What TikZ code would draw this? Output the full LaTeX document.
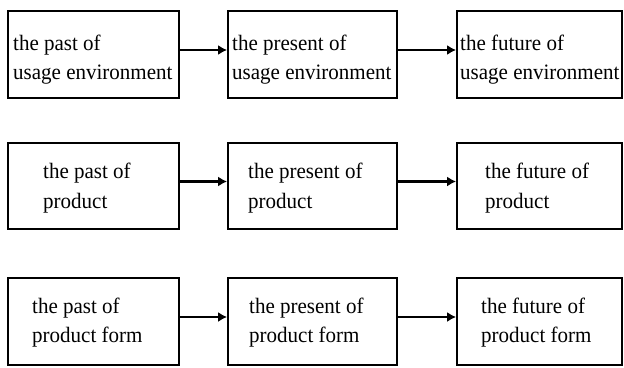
\documentclass[tikz,border=0pt]{standalone}
\usepackage{fontspec}
\usepackage{graphicx}
\setmainfont{Liberation Serif}
\usetikzlibrary{arrows.meta}
\newcommand\sxt[1]{\scalebox{0.955}[1]{#1}}
\begin{document}
\begin{tikzpicture}[x=1pt,y=-1pt,
  box/.style={draw=black,line width=1.8pt,rectangle,inner sep=0pt},
  txt/.style={anchor=base west,inner sep=0pt,font=\fontsize{22}{26}\selectfont},
  arr/.style={line width=2.6pt,-{Latex[length=9pt,width=10pt]}}]
\useasboundingbox (0,0) rectangle (624,367);
% boxes: rows at y 11-98, 143-229, 278-365
\foreach \r/\yt/\yb in {1/11/98,2/143/229,3/278/365}{
  \node[box,minimum width=171pt,minimum height={(\yb-\yt)*1pt}] (b\r1) at (93.5,{(\yt+\yb)/2}) {};
  \node[box,minimum width=169pt,minimum height={(\yb-\yt)*1pt}] (b\r2) at (312.5,{(\yt+\yb)/2}) {};
  \node[box,minimum width=165pt,minimum height={(\yb-\yt)*1pt}] (b\r3) at (539.5,{(\yt+\yb)/2}) {};
}
% row 1 texts
\node[txt] (t11a) at (13,50) {\sxt{the past of}};
\node[txt] (t11b) at (13,79) {\sxt{usage environment}};
\node[txt] (t12a) at (232,50) {\sxt{the present of}};
\node[txt] (t12b) at (232,79) {\sxt{usage environment}};
\node[txt] (t13a) at (460,50) {\sxt{the future of}};
\node[txt] (t13b) at (460,79) {\sxt{usage environment}};
% row 2 texts
\node[txt] (t21a) at (43,178) {\sxt{the past of}};
\node[txt] (t21b) at (43,208) {\sxt{product}};
\node[txt] (t22a) at (248,178) {\sxt{the present of}};
\node[txt] (t22b) at (248,208) {\sxt{product}};
\node[txt] (t23a) at (485,178) {\sxt{the future of}};
\node[txt] (t23b) at (485,208) {\sxt{product}};
% row 3 texts
\node[txt] (t31a) at (32,313) {\sxt{the past of}};
\node[txt] (t31b) at (32,342) {\sxt{product form}};
\node[txt] (t32a) at (249,313) {\sxt{the present of}};
\node[txt] (t32b) at (249,342) {\sxt{product form}};
\node[txt] (t33a) at (481,313) {\sxt{the future of}};
\node[txt] (t33b) at (481,342) {\sxt{product form}};
% arrows
\foreach \r in {1,2,3}{
  \draw[arr] ([yshift=4.5pt]b\r1.east) -- ([yshift=4.5pt]b\r2.west);
  \draw[arr] ([yshift=4.5pt]b\r2.east) -- ([yshift=4.5pt]b\r3.west);
}
\end{tikzpicture}
\end{document}
